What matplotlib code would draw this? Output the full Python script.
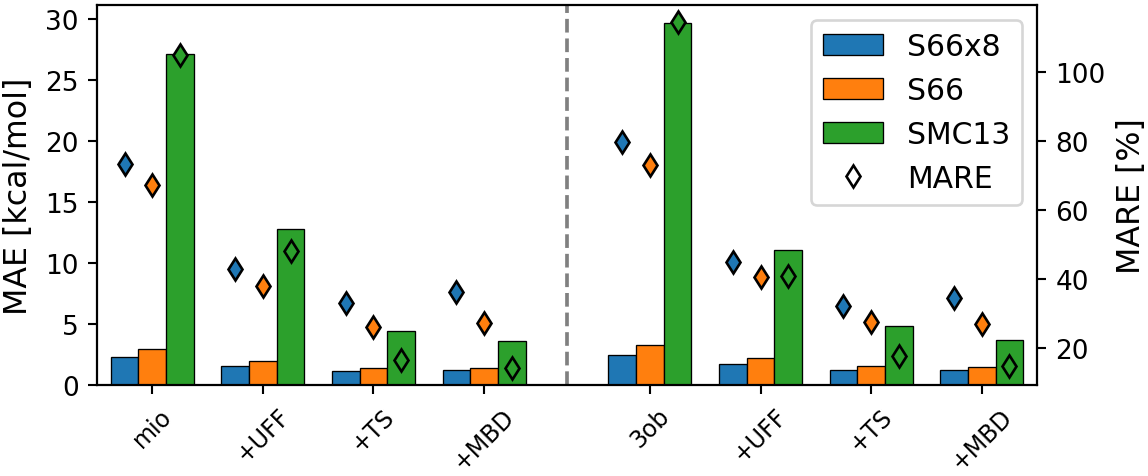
import matplotlib
matplotlib.use("Agg")
import matplotlib.pyplot as plt
import numpy as np
from matplotlib.lines import Line2D

# data
labels = ["mio", "+UFF", "+TS", "+MBD", "3ob", "+UFF", "+TS", "+MBD"]
positions = [0, 1, 2, 3, 4.5, 5.5, 6.5, 7.5]
sets = ["S66x8", "S66", "SMC13"]

mae_s66x8 = [2.29, 1.55, 1.17, 1.22, 2.48, 1.69, 1.19, 1.19]
mae_s66 = [2.98, 2.01, 1.38, 1.41, 3.27, 2.20, 1.55, 1.50]
mae_smc13 = [27.18, 12.79, 4.46, 3.60, 29.70, 11.08, 4.87, 3.66]

mare_s66x8 = [73.4, 42.8, 33.1, 36.4, 79.9, 45.1, 32.3, 34.6]
mare_s66 = [67.4, 37.9, 26.1, 27.2, 73.2, 40.5, 27.7, 27.0]
mare_smc13 = [105.0, 48.1, 16.6, 14.3, 114.5, 40.9, 17.6, 14.8]

colors = ["tab:blue", "tab:orange", "tab:green"]

# the reference looks like a default-styled figure blown up ~1.9x
S = 1.9
plt.rcParams.update({
    "font.size": 19,
    "axes.linewidth": 0.8 * S,
    "xtick.major.size": 3.5 * S,
    "ytick.major.size": 3.5 * S,
    "xtick.major.width": 0.8 * S,
    "ytick.major.width": 0.8 * S,
    "xtick.major.pad": 3.5 * S,
    "ytick.major.pad": 3.5 * S,
    "axes.labelpad": 4.0 * S,
    "patch.linewidth": 1.0 * S,
})

fig = plt.figure(figsize=(11.48, 4.77), dpi=100)
ax = fig.add_axes([97 / 1148, 1 - 386 / 477, (1037 - 97) / 1148, 380 / 477])
ax2 = ax.twinx()

x = np.array(positions)
width = 0.25
maes = [mae_s66x8, mae_s66, mae_smc13]
mares = [mare_s66x8, mare_s66, mare_smc13]
for i, (name, col) in enumerate(zip(sets, colors)):
    off = (i - 1) * width
    ax.bar(x + off, maes[i], width=width, color=col, edgecolor="black",
           linewidth=0.5 * S, label=name)
    ax2.plot(x + off, mares[i], linestyle="none", marker="d", markersize=6 * S,
             markerfacecolor=col, markeredgecolor="black", markeredgewidth=1.0 * S)

# separator between mio and 3ob groups
ax.axvline(3.75, color="grey", linestyle="--", linewidth=1.4 * S)

ax.set_xlim(-0.5, 8.0)
ax.set_xticks(positions)
ax.set_xticklabels(labels, rotation=45, fontsize=17)
ax.set_yticks([0, 5, 10, 15, 20, 25, 30])
ax2.set_yticks([20, 40, 60, 80, 100])
ax.set_ylabel("MAE [kcal/mol]", fontsize=22.8)
ax2.set_ylabel("MARE [%]", fontsize=22.8)

handles, _ = ax.get_legend_handles_labels()
handles.append(Line2D([], [], linestyle="none", marker="d", markersize=6 * S,
                      markerfacecolor="white", markeredgecolor="black",
                      markeredgewidth=1.0 * S))
ax2.legend(handles, sets + ["MARE"], loc="upper right", fontsize=21.5)

fig.savefig("out.png", dpi=100)
